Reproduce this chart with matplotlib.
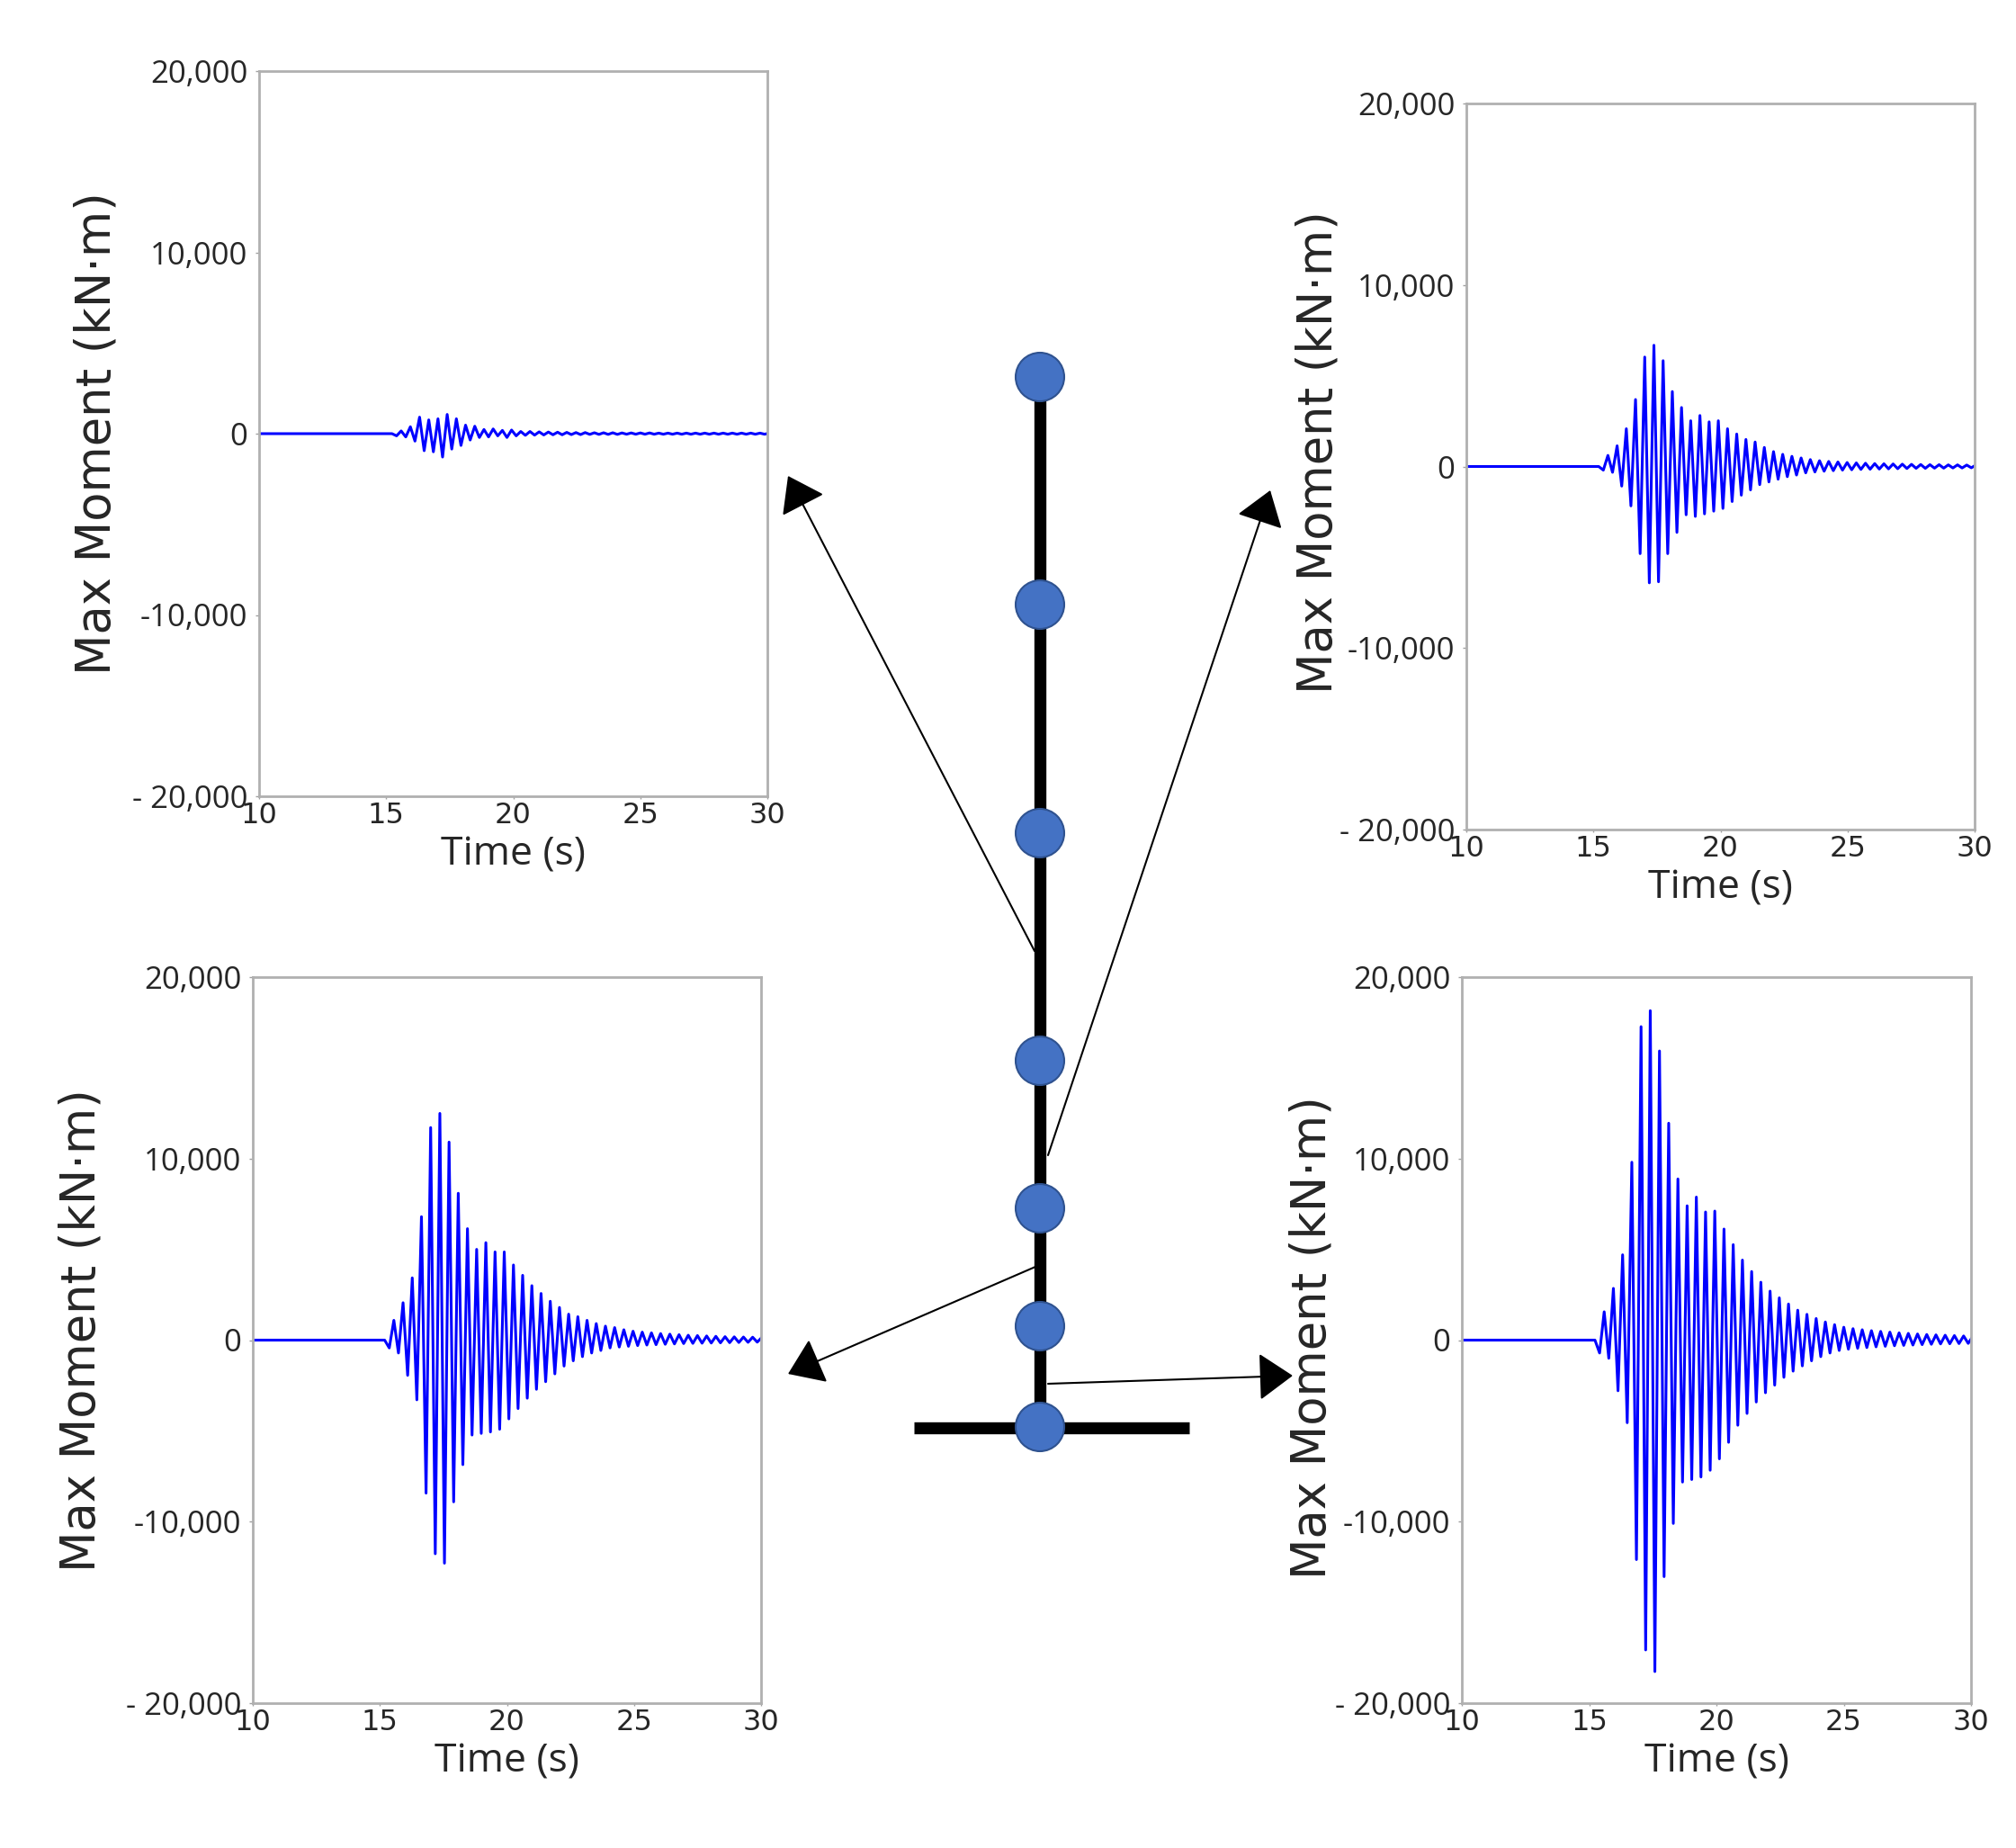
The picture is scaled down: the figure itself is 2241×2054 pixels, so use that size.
import numpy as np
import matplotlib
matplotlib.use("Agg")
import matplotlib.pyplot as plt
from matplotlib.patches import Circle

# ---- data ----
# each panel: extreme values of the moment (kN·m), one per half cycle
period = 0.362  # s, spacing between two peaks

tl_t_first = 15.41
tl_troughs = [-120, -180, -410, -940, -1000, -1290, -850, -650, -350, -210, -180, -120, -210, -120,
              -90, -80, -70, -60, -60, -50, -50, -40, -40, -40, -40, -30, -30, -30, -30, -30, -30,
              -30, -30, -30, -30, -30, -30, -30, -30, -30, -30]
tl_peaks = [150, 380, 910, 760, 820, 1060, 820, 470, 410, 230, 260, 180, 200, 120, 120, 100, 90,
            80, 70, 60, 60, 50, 50, 50, 40, 40, 40, 40, 30, 30, 30, 30, 30, 30, 30, 30, 30, 30,
            30, 30, 30]

tr_t_first = 15.39
tr_troughs = [-200, -320, -1080, -2170, -4800, -6410, -6350, -4800, -3630, -2660, -2750, -2610,
              -2460, -2310, -1930, -1580, -1290, -1000, -850, -700, -560, -470, -350, -300, -260,
              -230, -200, -180, -160, -150, -140, -130, -120, -110, -100, -100, -90, -90, -80,
              -80, -70]
tr_peaks = [610, 1140, 2080, 3690, 6030, 6680, 5830, 4130, 3250, 2520, 2810, 2460, 2520, 2080,
            1790, 1490, 1350, 1050, 820, 670, 560, 470, 380, 320, 280, 250, 220, 200, 180, 160,
            150, 140, 130, 120, 110, 100, 100, 90, 90, 80, 80]

bl_t_first = 15.37
bl_troughs = [-430, -710, -1940, -3290, -8430, -11770, -12290, -8910, -6860, -5230, -5140, -5060,
              -4910, -4340, -3770, -3200, -2710, -2290, -1860, -1430, -1140, -910, -710, -570,
              -430, -380, -340, -300, -270, -250, -230, -210, -190, -180, -170, -160, -150, -140,
              -130, -120, -110]
bl_peaks = [1090, 2060, 3430, 6800, 11710, 12490, 10910, 8090, 6140, 5000, 5370, 4860, 4860,
            4140, 3570, 3000, 2570, 2140, 1800, 1430, 1290, 1090, 910, 770, 690, 570, 490, 440,
            400, 360, 330, 300, 270, 250, 230, 210, 190, 180, 170, 160, 150]

br_t_first = 15.41
br_troughs = [-710, -1000, -2790, -4550, -12090, -17070, -18260, -13030, -10100, -7820, -7680,
              -7540, -7170, -6540, -5630, -4690, -4040, -3410, -2900, -2480, -2050, -1710, -1420,
              -1140, -910, -710, -570, -500, -450, -410, -370, -340, -310, -290, -270, -250,
              -230, -210, -200, -190, -180]
br_peaks = [1560, 2850, 4700, 9800, 17270, 18150, 15930, 11950, 8880, 7400, 7880, 7060, 7110,
            6120, 5260, 4410, 3780, 3190, 2700, 2330, 1990, 1650, 1420, 1190, 1000, 850, 710,
            630, 570, 520, 480, 440, 400, 370, 340, 310, 290, 270, 250, 230, 210]

y_ticks = [20000, 10000, 0, -10000, -20000]
y_ticklabels = ["20,000", "10,000", "0", "-10,000", "- 20,000"]
x_ticks = [10, 15, 20, 25, 30]
x_label = "Time (s)"
y_label = "Max Moment (kN\u00b7m)"

# ---- layout (pixels of the 2241x2054 picture) ----
W, H = 2241, 2054
# left, right, top, bottom of each panel, ylabel x-offset, ylabel y-centre
panels = [
    (tl_t_first, tl_troughs, tl_peaks, (288, 853, 79, 885), -0.320, 0.50),
    (tr_t_first, tr_troughs, tr_peaks, (1630, 2195, 115, 922), -0.292, 0.52),
    (bl_t_first, bl_troughs, bl_peaks, (281, 846, 1086, 1893), -0.338, 0.514),
    (br_t_first, br_troughs, br_peaks, (1625, 2191, 1086, 1893), -0.295, 0.504),
]

fig = plt.figure(figsize=(W / 100, H / 100), dpi=100)
fig.patch.set_facecolor("white")

# overlay for the column sketch
ov = fig.add_axes([0, 0, 1, 1])
ov.set_xlim(0, W)
ov.set_ylim(H, 0)
ov.axis("off")

col_x = 1156
node_y = [419, 672, 926, 1179, 1343, 1474, 1586]
ov.plot([col_x, col_x], [node_y[0], node_y[-1]], color="black", lw=9.6, solid_capstyle="butt", zorder=2)
ov.plot([1016, 1322], [1587, 1587], color="black", lw=9.6, solid_capstyle="butt", zorder=2)

arrows = [((1150, 1057), (876, 529)),
          ((1165, 1284), (1412, 545)),
          ((1151, 1408), (876, 1527)),
          ((1165, 1538), (1437, 1529))]
for start, tip in arrows:
    ov.annotate("", xy=tip, xytext=start,
                arrowprops=dict(arrowstyle="-|>,head_length=0.4,head_width=0.28",
                                mutation_scale=60, lw=1.5, color="black",
                                shrinkA=0, shrinkB=0), zorder=3)

for y in node_y:
    ov.add_patch(Circle((col_x, y), 27, facecolor="#4472C4", edgecolor="#2F528F", lw=1.5, zorder=4))

# ---- the four time histories ----
for t_first, troughs, peaks, (l, r, t, b), lab_x, lab_y in panels:
    ax = fig.add_axes([l / W, 1 - b / H, (r - l) / W, (b - t) / H])
    t_tr = t_first + period * np.arange(len(troughs))
    t_pk = t_first + period * (np.arange(len(peaks)) + 0.5)
    tt = np.concatenate([[10, t_first - period / 2], t_tr, t_pk])
    vv = np.concatenate([[0, 0], troughs, peaks])
    order = np.argsort(tt)
    ax.plot(tt[order], vv[order], color="#0000ff", lw=2.2)

    ax.set_xlim(10, 30)
    ax.set_ylim(-20000, 20000)
    ax.set_yticks(y_ticks)
    ax.set_yticklabels(y_ticklabels, fontfamily="Open Sans", fontsize=25, color="#262626")
    ax.set_xticks(x_ticks)
    ax.set_xticklabels([str(v) for v in x_ticks], fontfamily="DejaVu Sans", fontsize=23, color="#262626")
    ax.tick_params(axis="y", length=3, width=1, color="#a0a0a0", pad=6)
    ax.tick_params(axis="x", length=2, width=1, color="#a0a0a0", pad=2)
    for sp in ax.spines.values():
        sp.set_color("#b0b0b0")
        sp.set_linewidth(2)

    ax.set_xlabel(x_label, fontfamily="Open Sans", fontsize=32, color="#262626", va="center")
    ax.xaxis.set_label_coords(0.5, -0.0805)
    ax.set_ylabel(y_label, fontfamily="DejaVu Sans", fontsize=38, color="#262626", va="center", ha="center")
    ax.yaxis.set_label_coords(lab_x, lab_y)

fig.savefig("out.png", dpi=100)
